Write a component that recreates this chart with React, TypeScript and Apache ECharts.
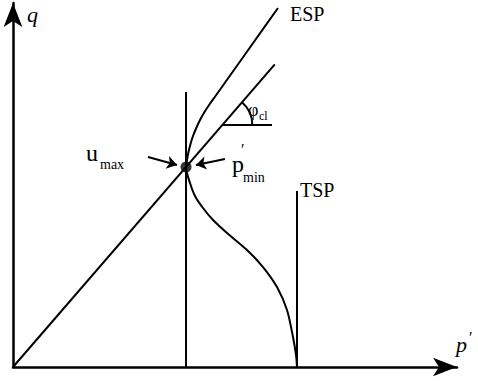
import React, { useEffect, useRef } from "react";
import * as echarts from "echarts";

// Data units: p' and q on a 0..100 schematic scale
const cslLine = [[0, 0], [58.96, 83.15]];
const pMinVertical = [[38.97, 0], [38.97, 75.53]];
const tspLine = [[63.96, 0], [63.96, 48.35]];
const angleBase = [[47.15, 66.48], [58.33, 66.48]];
const pMinPoint = [[38.97, 54.95]];
const espUpper = [
  [59.68, 98.63],
  [52.65, 86.54],
  [45.61, 74.45],
  [44.32, 72.25],
  [43.13, 70.05],
  [42.12, 67.86],
  [41.28, 65.66],
  [40.54, 63.46],
  [39.98, 61.26],
  [39.53, 59.07],
  [39.19, 56.87],
];
const espLower = [
  [38.97, 54.95],
  [39.86, 50.55],
  [40.99, 46.98],
  [42.79, 43.68],
  [45.05, 40.38],
  [48.2, 36.82],
  [52.71, 32.14],
  [56.31, 27.47],
  [59.46, 21.98],
  [61.71, 15.66],
  [63.06, 8.24],
  [63.74, 3.3],
  [63.96, 0],
];
const uMaxArrow = [[30.41, 57.69], [36.93, 55.5]];
const pMinArrow = [[47.74, 57.14], [41.21, 55.5]];

const SERIF = "'Liberation Serif', 'DejaVu Serif', serif";

export default function App() {
  const ref = useRef<HTMLDivElement>(null);
  useEffect(() => {
    if (!ref.current) return;
    const chart = echarts.init(ref.current, undefined, { renderer: "svg" });
    const black = "#000";
    const lineStyle = { color: black, width: 2 };
    const txt = (x: number, y: number, text: string, size: number, extra: any = {}) => ({
      type: "text",
      x,
      y,
      style: {
        text,
        fontSize: size,
        fontFamily: SERIF,
        fill: black,
        verticalAlign: "middle",
        ...extra,
      },
    });
    chart.setOption({
      animation: false,
      grid: { left: 13, right: 21, top: 3, bottom: 14 },
      xAxis: {
        type: "value",
        min: 0,
        max: 100,
        axisLine: {
          show: true,
          symbol: ["none", "arrow"],
          symbolSize: [14, 24],
          lineStyle: { color: black, width: 2.5 },
        },
        axisTick: { show: false },
        axisLabel: { show: false },
        splitLine: { show: false },
      },
      yAxis: {
        type: "value",
        min: 0,
        max: 100,
        axisLine: {
          show: true,
          symbol: ["none", "arrow"],
          symbolSize: [14, 24],
          lineStyle: { color: black, width: 2.5 },
        },
        axisTick: { show: false },
        axisLabel: { show: false },
        splitLine: { show: false },
      },
      series: [
        { type: "line", data: cslLine, symbol: "none", lineStyle, clip: false },
        { type: "line", data: pMinVertical, symbol: "none", lineStyle, clip: false },
        { type: "line", data: tspLine, symbol: "none", lineStyle, clip: false },
        { type: "line", data: angleBase, symbol: "none", lineStyle, clip: false },
        {
          type: "line",
          data: [...espUpper, ...espLower],
          symbol: "none",
          smooth: 0.3,
          lineStyle,
          clip: false,
        },
        {
          type: "custom",
          clip: false,
          data: [angleBase[0]],
          renderItem: (params: any, api: any) => {
            const c = api.coord([api.value(0), api.value(1)]);
            const e = api.coord(cslLine[1]);
            const ang = Math.atan2(e[1] - c[1], e[0] - c[0]);
            return {
              type: "arc",
              shape: { cx: c[0], cy: c[1], r: 30, startAngle: ang, endAngle: 0, clockwise: true },
              style: { stroke: black, lineWidth: 2, fill: "none" },
            };
          },
        },
        {
          type: "lines",
          coordinateSystem: "cartesian2d",
          symbol: ["none", "arrow"],
          symbolSize: 10,
          lineStyle: { color: black, width: 2, opacity: 1 },
          data: [{ coords: uMaxArrow }, { coords: pMinArrow }],
        },
        {
          type: "scatter",
          data: pMinPoint,
          symbol: "circle",
          symbolSize: 11,
          itemStyle: { color: black },
          z: 5,
        },
      ],
      graphic: [
        txt(27, 14, "q", 22, { fontStyle: "italic" }),
        txt(456, 344, "p", 22, { fontStyle: "italic" }),
        txt(468, 337, "′", 16, { fontStyle: "italic" }),
        txt(290, 14, "ESP", 20),
        txt(300, 190, "TSP", 20),
        txt(86, 153, "u", 24),
        txt(100, 164, "max", 14),
        txt(232, 164, "p", 24),
        txt(241, 149, "′", 16),
        txt(243, 177, "min", 14),
        txt(248, 110, "φ", 18),
        txt(259, 116, "cl", 12),
      ],
    });
    return () => chart.dispose();
  }, []);
  return (
    <div
      ref={ref}
      style={{ position: "absolute", left: 0, top: 0, width: 478, height: 381 }}
    />
  );
}
